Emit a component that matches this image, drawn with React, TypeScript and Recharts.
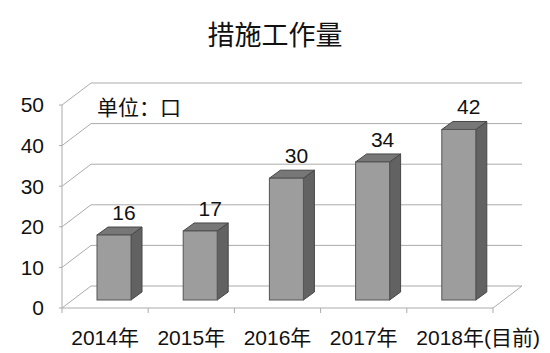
import { BarChart, Bar, XAxis, YAxis, CartesianGrid, LabelList } from "recharts";

const years = ["2014年", "2015年", "2016年", "2017年", "2018年(目前)"];
const workload = [16, 17, 30, 34, 42];
const yTicks = [0, 10, 20, 30, 40, 50];

const data = years.map((year, i) => ({ year, workload: workload[i] }));

const FONT = '"Liberation Sans", "Noto Sans CJK SC", sans-serif';
const GRID = "#ababab";

// 3D look: back wall offset, bar depth position and bar thickness
const WALL_DX = 29;
const WALL_DY = -22;
const BAR_DX = 9;
const BAR_DY = -8;
const SIDE_DX = 11;
const SIDE_DY = -8;

function WallLine(props: any) {
  const { x1, y1, x2, y, height } = props;
  const isFloor = Math.abs(y1 - (y + height)) < 0.5;
  return (
    <g key={props.key}>
      <line x1={x1} y1={y1} x2={x1 + WALL_DX} y2={y1 + WALL_DY} stroke={GRID} />
      <line x1={x1 + WALL_DX} y1={y1 + WALL_DY} x2={x2 + WALL_DX} y2={y1 + WALL_DY} stroke={GRID} />
      {isFloor && <line x1={x2} y1={y1} x2={x2 + WALL_DX} y2={y1 + WALL_DY} stroke={GRID} />}
    </g>
  );
}

function Bar3D(props: any) {
  const { x, y, width, height } = props;
  const fx = x + BAR_DX;
  const fy = y + BAR_DY;
  const r = fx + width;
  const side = `${r},${fy} ${r + SIDE_DX},${fy + SIDE_DY} ${r + SIDE_DX},${fy + height + SIDE_DY} ${r},${fy + height}`;
  const top = `${fx},${fy} ${fx + SIDE_DX},${fy + SIDE_DY} ${r + SIDE_DX},${fy + SIDE_DY} ${r},${fy}`;
  return (
    <g>
      <polygon points={side} fill="#626262" stroke="#474747" strokeWidth={1} />
      <polygon points={top} fill="#777777" stroke="#474747" strokeWidth={1} />
      <rect x={fx} y={fy} width={width} height={height} fill="#9d9d9d" stroke="#555555" strokeWidth={1} />
    </g>
  );
}

function ValueLabel(props: any) {
  const { x, y, width, value } = props;
  return (
    <text
      x={x + width / 2 + BAR_DX + 10}
      y={y + BAR_DY + SIDE_DY - 7}
      textAnchor="middle"
      fontSize={21}
      fontFamily={FONT}
      fill="#111"
    >
      {value}
    </text>
  );
}

function YearTick(props: any) {
  const { x, y, payload, index, visibleTicksCount } = props;
  const half = payload.offset ?? 43;
  const label: string = payload.value;
  const last = index === (visibleTicksCount ?? years.length) - 1;
  const hasNote = label.includes("(");
  return (
    <g>
      <line x1={x - half} y1={y} x2={x - half} y2={y + 5} stroke={GRID} />
      {last && <line x1={x + half} y1={y} x2={x + half} y2={y + 5} stroke={GRID} />}
      <text
        x={x}
        y={y + 37}
        dx={hasNote ? "-1.6em" : 0}
        textAnchor={hasNote ? "start" : "middle"}
        fontSize={21}
        fontFamily={FONT}
        fill="#111"
      >
        {label}
      </text>
    </g>
  );
}

export default function App() {
  return (
    <div style={{ position: "absolute", left: 0, top: 0, width: 550, height: 353, background: "#fff" }}>
      <div
        style={{
          position: "absolute",
          left: 0,
          top: 22,
          width: 550,
          textAlign: "center",
          fontSize: 27,
          lineHeight: "28px",
          fontFamily: FONT,
          color: "#111",
        }}
      >
        措施工作量
      </div>
      <div
        style={{
          position: "absolute",
          left: 97,
          top: 97,
          fontSize: 21,
          lineHeight: "22px",
          fontFamily: FONT,
          color: "#111",
          zIndex: 1,
        }}
      >
        单位：口
      </div>
      <BarChart
        width={550}
        height={353}
        data={data}
        margin={{ top: 105, right: 57, bottom: 0, left: 12 }}
        barSize={34}
      >
        <CartesianGrid horizontal={WallLine} vertical={false} />
        <XAxis
          dataKey="year"
          height={45}
          tickSize={0}
          tickMargin={0}
          tickLine={false}
          axisLine={{ stroke: GRID }}
          tick={YearTick}
          interval={0}
        />
        <YAxis
          width={50}
          domain={[0, 50]}
          ticks={yTicks}
          tickSize={3}
          tickMargin={15}
          tickLine={{ stroke: GRID }}
          axisLine={{ stroke: GRID }}
          tick={{ fontSize: 21, fontFamily: FONT, fill: "#111" }}
        />
        <Bar dataKey="workload" shape={Bar3D} isAnimationActive={false}>
          <LabelList dataKey="workload" content={ValueLabel} />
        </Bar>
      </BarChart>
    </div>
  );
}
